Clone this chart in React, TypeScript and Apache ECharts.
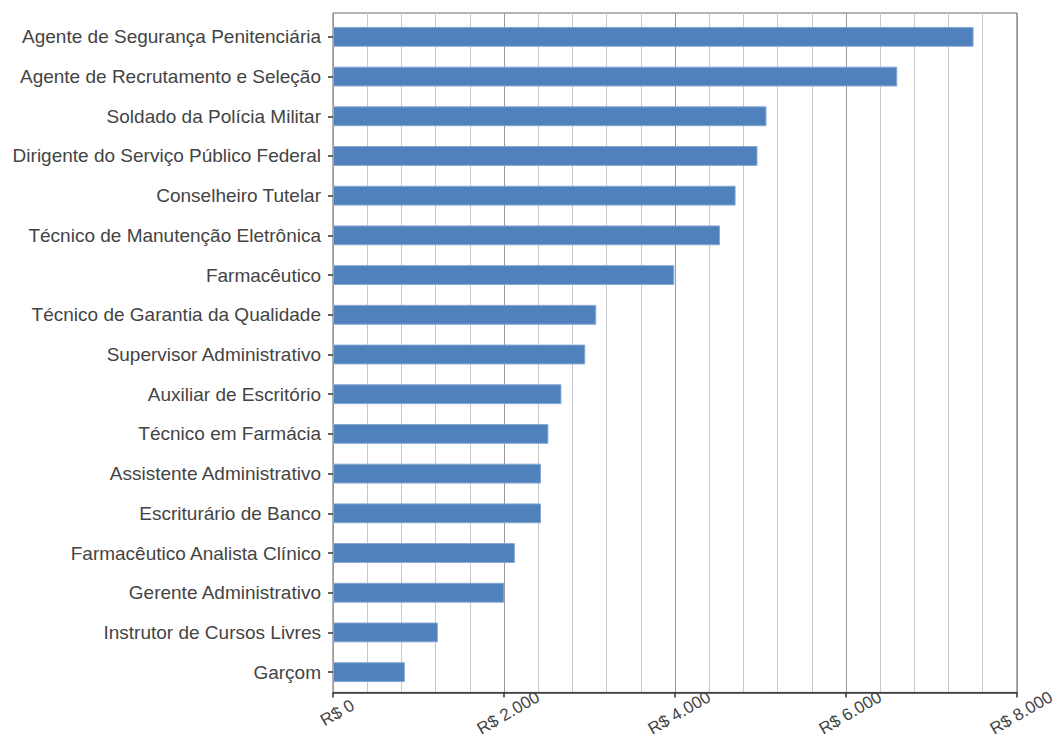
import React, { useEffect, useRef } from "react";
import * as echarts from "echarts";

const categories = [
  "Agente de Segurança Penitenciária",
  "Agente de Recrutamento e Seleção",
  "Soldado da Polícia Militar",
  "Dirigente do Serviço Público Federal",
  "Conselheiro Tutelar",
  "Técnico de Manutenção Eletrônica",
  "Farmacêutico",
  "Técnico de Garantia da Qualidade",
  "Supervisor Administrativo",
  "Auxiliar de Escritório",
  "Técnico em Farmácia",
  "Assistente Administrativo",
  "Escriturário de Banco",
  "Farmacêutico Analista Clínico",
  "Gerente Administrativo",
  "Instrutor de Cursos Livres",
  "Garçom",
];

const salaries = [
  7470, 6580, 5055, 4950, 4695, 4513, 3980, 3070, 2942, 2664, 2512, 2426, 2426,
  2122, 1998, 1223, 838,
];

const xTicks = [0, 2000, 4000, 6000, 8000];

function formatBRL(v: number): string {
  const s = Math.round(v)
    .toString()
    .replace(/\B(?=(\d{3})+(?!\d))/g, ".");
  return "R$ " + s;
}

export default function App() {
  const ref = useRef<HTMLDivElement>(null);

  useEffect(() => {
    if (!ref.current) return;
    const chart = echarts.init(ref.current, undefined, { renderer: "svg" });
    const font = "'Liberation Sans', Arial, sans-serif";
    const xMin = xTicks[0];
    const xMax = xTicks[xTicks.length - 1];
    chart.setOption({
      animation: false,
      grid: [
        {
          left: 333,
          top: 13,
          right: 39,
          bottom: 44,
          show: true,
          borderColor: "#666",
          borderWidth: 1,
        },
        {
          left: 333,
          top: 17,
          right: 39,
          bottom: 47,
        },
      ],
      xAxis: [
        {
          type: "value",
          gridIndex: 0,
          min: xMin,
          max: xMax,
          interval: 2000,
          axisLine: { show: true, lineStyle: { color: "#333", width: 1.5 } },
          axisTick: { show: true, length: 5, lineStyle: { color: "#333", width: 1.5 } },
          axisLabel: {
            rotate: 30,
            align: "center",
            verticalAlign: "middle",
            margin: 23,
            padding: [0, 0, 0, 10],
            fontSize: 17,
            color: "#444",
            fontFamily: font,
            formatter: (v: number) => formatBRL(v),
          },
          splitLine: { show: true, lineStyle: { color: "#999", width: 1 } },
          minorTick: { show: false, splitNumber: 5 },
          minorSplitLine: { show: true, lineStyle: { color: "#c8c8c8", width: 1 } },
        },
        {
          type: "value",
          gridIndex: 1,
          min: xMin,
          max: xMax,
          show: false,
        },
      ],
      yAxis: [
        {
          type: "value",
          gridIndex: 0,
          min: 0,
          max: 1,
          show: false,
        },
        {
          type: "category",
          gridIndex: 1,
          data: categories,
          inverse: true,
          axisLine: { show: false },
          axisTick: {
            show: true,
            alignWithLabel: true,
            length: 5,
            lineStyle: { color: "#333", width: 1.5 },
          },
          axisLabel: {
            fontSize: 19,
            color: "#444",
            fontFamily: font,
            margin: 12,
          },
          splitLine: { show: false },
        },
      ],
      series: [
        {
          type: "bar",
          xAxisIndex: 1,
          yAxisIndex: 1,
          data: salaries,
          barCategoryGap: "50%",
          itemStyle: {
            color: "#4F81BD",
            borderColor: "#86a8d4",
            borderWidth: 1,
          },
        },
      ],
    });
    return () => chart.dispose();
  }, []);

  return (
    <div
      ref={ref}
      style={{
        position: "absolute",
        left: 0,
        top: 0,
        width: 1058,
        height: 739,
        overflow: "hidden",
      }}
    />
  );
}
